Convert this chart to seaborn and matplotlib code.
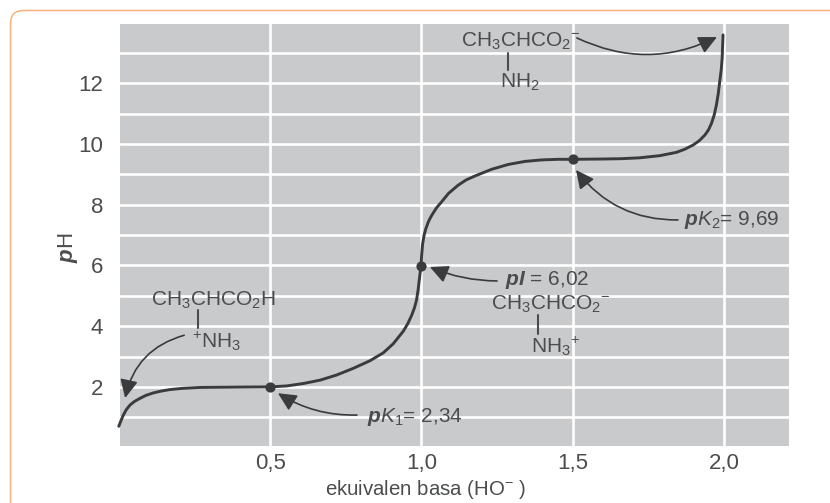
import numpy as np
import matplotlib
matplotlib.use("Agg")
import matplotlib.pyplot as plt
from matplotlib.patches import FancyBboxPatch
import seaborn as sns

# Data
ekuivalen = [0.0, 0.007, 0.015, 0.025, 0.037, 0.052, 0.07, 0.09, 0.114, 0.14, 0.169, 0.21, 0.269, 0.38, 0.5,
             0.555, 0.61, 0.665, 0.72, 0.775, 0.83, 0.874, 0.907, 0.94, 0.955, 0.968, 0.977, 0.984, 0.989, 0.993,
             0.9987, 1.001, 1.004, 1.009, 1.015, 1.024, 1.034, 1.05, 1.067, 1.09, 1.122, 1.148, 1.177, 1.232,
             1.287, 1.342, 1.397, 1.452, 1.5, 1.6, 1.66, 1.722, 1.788, 1.843, 1.87, 1.898, 1.918, 1.937, 1.949,
             1.959, 1.968, 1.975, 1.981, 1.986, 1.991, 1.994, 1.997]
ph = [0.7, 0.88, 1.07, 1.25, 1.4, 1.52, 1.62, 1.72, 1.8, 1.86, 1.91, 1.95, 1.98, 1.99, 2.0,
      2.03, 2.11, 2.22, 2.39, 2.61, 2.86, 3.12, 3.42, 3.83, 4.08, 4.36, 4.6, 4.86, 5.18, 5.52,
      5.98, 6.35, 6.7, 7.0, 7.22, 7.46, 7.65, 7.9, 8.1, 8.38, 8.65, 8.82, 8.95, 9.17,
      9.33, 9.43, 9.48, 9.5, 9.5, 9.51, 9.52, 9.55, 9.62, 9.73, 9.83, 9.97, 10.11, 10.3, 10.47,
      10.69, 10.97, 11.29, 11.65, 12.06, 12.45, 12.83, 13.6]
titik_x = [0.5, 1.0, 1.5]
titik_y = [2.0, 5.97, 9.5]
x_ticks = [0.5, 1.0, 1.5, 2.0]
x_labels = ["0,5", "1,0", "1,5", "2,0"]
y_ticks = [2, 4, 6, 8, 10, 12]
y_grid = list(range(1, 14))

abu = "#4a4c4e"
gelap = "#3a3b3d"

sns.set_style("darkgrid")
plt.rcParams['font.family'] = ['Liberation Sans', 'DejaVu Sans']
plt.rcParams['mathtext.fontset'] = 'custom'
plt.rcParams['mathtext.rm'] = 'Liberation Sans'
plt.rcParams['mathtext.it'] = 'Liberation Sans:italic'
plt.rcParams['mathtext.bf'] = 'Liberation Sans:bold'
plt.rcParams['mathtext.bfit'] = 'Liberation Sans:italic:bold'
plt.rcParams['mathtext.default'] = 'regular'

fig = plt.figure(figsize=(8.3, 5.03), dpi=100, facecolor="white")
ax = fig.add_axes([120 / 830, 57 / 503, 669 / 830, 422 / 503])
ax.set_facecolor("#c8cacb")

# Orange frame around the figure
fig.patches.append(FancyBboxPatch((10.5, -60), 900, 552.5, boxstyle="round,pad=0,rounding_size=13",
                                  transform=None, fc="none", ec="#f9b27c", lw=1.1))

sns.lineplot(x=ekuivalen, y=ph, sort=False, estimator=None, color=gelap, lw=2.1, ax=ax, clip_on=False, zorder=3,
             solid_joinstyle="round")
sns.scatterplot(x=titik_x, y=titik_y, color=gelap, s=54, linewidth=0, ax=ax, zorder=4)

ax.set_xlim(0.004, 2.215)
ax.set_ylim(0.05, 13.96)
ax.set_xticks(x_ticks)
ax.set_xticklabels(x_labels)
ax.set_yticks(y_grid)
ax.set_yticklabels([str(v) if v in y_ticks else "" for v in y_grid])
ax.grid(True, color="white", lw=1.9)
ax.tick_params(axis="both", length=0, labelsize=16, labelcolor=abu)
ax.tick_params(axis="x", pad=5)
ax.tick_params(axis="y", pad=12)
for s in ax.spines.values():
    s.set_visible(False)
ax.set_xlabel("ekuivalen basa (HO$^{-}$ )", fontsize=14.7, color=abu, va="baseline")
ax.xaxis.set_label_coords(0.457, -0.116)
ax.set_ylabel(r"$\mathbfit{p}$H", fontsize=16, color=abu, va="baseline")
ax.yaxis.set_label_coords(-0.07, 0.47)

# Labels, bonds and arrows
def tulis(x, y, s):
    ax.text(x, y, s, fontsize=15, color=abu, va="baseline", ha="left", zorder=5)

def panah(x0, y0, x1, y1, rad):
    ax.annotate("", xy=(x1, y1), xytext=(x0, y0), zorder=5, annotation_clip=False,
                arrowprops=dict(arrowstyle="-|>,head_length=0.62,head_width=0.3", mutation_scale=18,
                                color=gelap, lw=1.2, shrinkA=0, shrinkB=0,
                                connectionstyle=f"arc3,rad={rad}"))

def ikatan(x, y0, y1):
    ax.plot([x, x], [y0, y1], color=abu, lw=1.5, zorder=5)

tulis(1.131, 13.2, r"CH$_3$CHCO$_2$$^{-}$")
ikatan(1.285, 13.0, 12.44)
tulis(1.26, 11.85, r"NH$_2$")
panah(1.514, 13.5, 1.977, 13.53, 0.24)

tulis(1.868, 7.33, r"$\mathbfit{p}\mathit{K}_2$= 9,69")
panah(1.848, 7.5, 1.511, 9.15, -0.25)

tulis(1.276, 5.35, r"$\mathbfit{pI}$ = 6,02")
panah(1.25, 5.49, 1.028, 5.95, -0.1)

tulis(1.23, 4.53, r"CH$_3$CHCO$_2$$^{-}$")
ikatan(1.384, 4.36, 3.74)
tulis(1.361, 3.11, r"NH$_3$$^{+}$")

tulis(0.107, 4.69, r"CH$_3$CHCO$_2$H")
ikatan(0.262, 4.53, 3.94)
tulis(0.242, 3.28, r"$^{+}$NH$_3$")
panah(0.216, 3.7, 0.021, 1.63, 0.3)

tulis(0.82, 0.836, r"$\mathbfit{p}\mathit{K}_1$= 2,34")
panah(0.787, 1.07, 0.526, 1.79, -0.15)

fig.savefig("out.png", dpi=100)
